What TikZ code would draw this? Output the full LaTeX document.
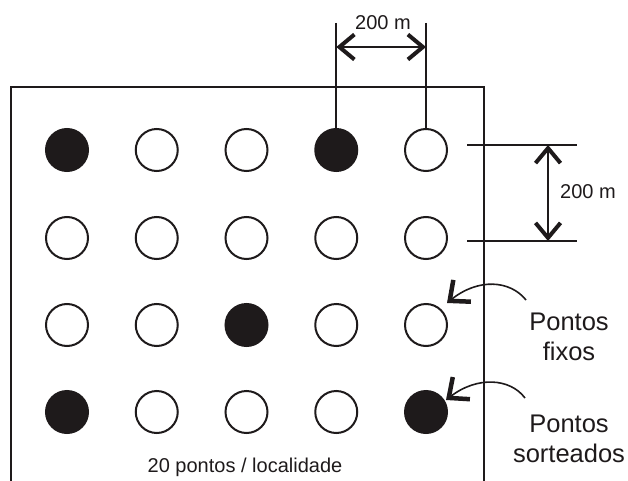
\documentclass[tikz,border=0pt]{standalone}
\usepackage{fontspec}
\setmainfont{Liberation Sans}
\usetikzlibrary{arrows.meta}
\definecolor{ink}{HTML}{1E1A1B}
\tikzset{
  barb/.tip={Straight Barb[length=15pt,width=25pt,line width=4pt]},
  bigbarb/.tip={Straight Barb[length=16pt,width=28pt,line width=4.5pt]}
}
\begin{document}
\begin{tikzpicture}[x=1pt,y=-1pt,
  every node/.style={text=ink},
  pt/.style={circle,draw=ink,line width=2pt,minimum size=42pt,inner sep=0pt},
  open/.style={pt,fill=white},
  full/.style={pt,fill=ink},
  rule/.style={draw=ink,line width=1.6pt},
  dim/.style={rule,barb-barb},
  pointer/.style={draw=ink,line width=1.6pt,-bigbarb},
  lbl/.style={font=\fontsize{20}{22}\selectfont,inner sep=0pt},
  big/.style={font=\fontsize{25.5}{30}\selectfont,align=center,inner sep=0pt}]
\useasboundingbox (0,0) rectangle (628,481);

% sampling area (open at the bottom)
\draw[rule,line width=2pt] (11,481) -- (11,87) -- (484,87) -- (484,481);

% grid of points: f = drawn, o = fixed
\foreach \row/\y/\marks in {1/150/{f,o,o,f,o},2/238/{o,o,o,o,o},3/325/{o,o,f,o,o},4/412/{f,o,o,o,f}}{
  \foreach \m [count=\col] in \marks {
    \pgfmathsetmacro{\x}{67+89.75*(\col-1)}
    \if\m f
      \node[full] (p\row\col) at (\x,\y) {};
    \else
      \node[open] (p\row\col) at (\x,\y) {};
    \fi
  }
}

% horizontal spacing dimension
\coordinate (h1) at (p14.center |- 0,23);
\coordinate (h2) at (p15.center |- 0,23);
\draw[rule] (h1) -- (p14.north);
\draw[rule] (h2) -- (p15.north);
\coordinate (ha) at (p14.center |- 0,47);
\coordinate (hb) at (p15.center |- 0,47);
\draw[dim] (ha) -- (hb);
\node[lbl] (hlabel) at (383,23) {200 m};

% vertical spacing dimension
\coordinate (v1a) at (467,145);
\coordinate (v1b) at (577,145);
\coordinate (v2a) at (467,241);
\coordinate (v2b) at (577,241);
\draw[rule] (v1a) -- (v1b);
\draw[rule] (v2a) -- (v2b);
\coordinate (va) at (548,145);
\coordinate (vb) at (548,241);
\draw[dim] (va) -- (vb);
\node[lbl] (vlabel) at (588,192) {200 m};

% legend
\node[big] (fixos) at (569,337) {Pontos\\fixos};
\node[big] (sort) at (569,439) {Pontos\\sorteados};
\coordinate (f0) at (526,300);
\coordinate (s0) at (525,398);
\coordinate (f1) at ([shift={(21,-22)}]p35.center);
\coordinate (s1) at ([shift={(20,-12)}]p45.center);
\draw[pointer] (f0) .. controls (510,280) and (478,278) .. (f1);
\draw[pointer] (s0) .. controls (510,378) and (477,376) .. (s1);

% caption
\node[lbl] (cap) at (245,467) {20 pontos / localidade};
\end{tikzpicture}
\end{document}
